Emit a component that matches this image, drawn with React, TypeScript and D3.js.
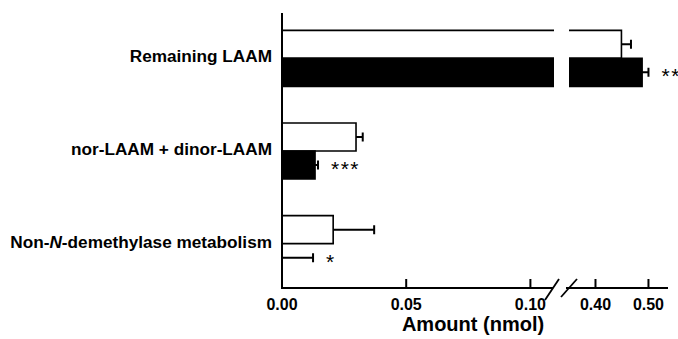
import React from 'react';
import * as d3 from 'd3';

const categories = ['Remaining LAAM', 'nor-LAAM + dinor-LAAM', 'Non-N-demethylase metabolism'];
const controlValues = [0.449, 0.0298, 0.0206];
const controlErrors = [0.018, 0.0027, 0.0165];
const treatedValues = [0.488, 0.0133, 0];
const treatedErrors = [0.012, 0.0012, 0.0125];
const significance = ['**', '***', '*'];
const leftTicks = [0, 0.05, 0.1];
const rightTicks = [0.4, 0.5];

const font = 'Liberation Sans, Arial, sans-serif';

const App = () => {
  const width = 678;
  const height = 339;
  const axisX = 282;
  const axisY = 288;
  const breakStart = 554;
  const breakEnd = 569;

  const xLeft = d3.scaleLinear().domain([0, 0.1095]).range([axisX, breakStart]);
  const xRight = d3.scaleLinear().domain([0.35, 0.535]).range([breakEnd, 667]);
  const y = d3.scaleBand().domain(categories).range([12, 290]).padding(0);
  const barH = 28;

  // map value -> x, whichever segment it falls in
  const xOf = (v) => (v <= 0.1095 ? xLeft(v) : xRight(v));

  const bar = (v, top, fill, key) => {
    const bottom = top + barH;
    if (v <= 0.1095) {
      const x1 = xOf(v);
      return (
        <g key={key}>
          <rect x={axisX} y={top} width={x1 - axisX} height={barH} fill={fill} />
          <path
            d={`M${axisX},${top}H${x1}V${bottom}H${axisX}`}
            fill="none"
            stroke="#000"
            strokeWidth={1.6}
          />
        </g>
      );
    }
    const x1 = xRight(v);
    return (
      <g key={key}>
        <rect x={axisX} y={top} width={breakStart - axisX} height={barH} fill={fill} />
        <rect x={breakEnd} y={top} width={x1 - breakEnd} height={barH} fill={fill} />
        <path d={`M${axisX},${top}H${breakStart}M${axisX},${bottom}H${breakStart}`} stroke="#000" strokeWidth={1.6} />
        <path d={`M${breakEnd},${top}H${x1}V${bottom}H${breakEnd}`} fill="none" stroke="#000" strokeWidth={1.6} />
      </g>
    );
  };

  const errBar = (v, e, cy, key) => {
    const x0 = xOf(v);
    const x1 = xOf(v + e);
    return (
      <path
        key={key}
        d={`M${x0},${cy}H${x1}M${x1},${cy - 4.5}V${cy + 4.5}`}
        stroke="#000"
        strokeWidth={2}
        fill="none"
      />
    );
  };

  return (
    <svg
      width={width}
      height={height}
      style={{ position: 'absolute', left: 0, top: 0, background: '#fff' }}
      fontFamily={font}
    >
      {categories.map((c, i) => {
        const center = y(c) + y.bandwidth() / 2;
        const wTop = center - barH;
        const bTop = center;
        return (
          <g key={c}>
            {bar(controlValues[i], wTop, '#fff', 'w')}
            {treatedValues[i] > 0 && bar(treatedValues[i], bTop, '#000', 'b')}
            {errBar(controlValues[i], controlErrors[i], wTop + barH / 2, 'we')}
            {errBar(treatedValues[i], treatedErrors[i], bTop + barH / 2, 'be')}
            <text
              x={xOf(treatedValues[i] + treatedErrors[i]) + 13}
              y={bTop + barH / 2 + 11}
              fontSize={21}
              letterSpacing={1.5}
            >
              {significance[i]}
            </text>
            <text x={272} y={center + 4} textAnchor="end" fontSize={17.2} fontWeight="bold">
              {c.startsWith('Non-N') ? (
                <>
                  Non-<tspan fontStyle="italic">N</tspan>-demethylase metabolism
                </>
              ) : (
                c
              )}
            </text>
          </g>
        );
      })}

      {/* axes */}
      <line x1={axisX} x2={axisX} y1={13} y2={axisY + 1} stroke="#000" strokeWidth={2} />
      <line x1={axisX - 1} x2={breakStart - 1} y1={axisY} y2={axisY} stroke="#000" strokeWidth={2} />
      <line x1={breakEnd - 3} x2={668} y1={axisY} y2={axisY} stroke="#000" strokeWidth={2} />
      <line x1={545} y1={300} x2={559} y2={279} stroke="#000" strokeWidth={1.8} />
      <line x1={561} y1={297} x2={577} y2={279} stroke="#000" strokeWidth={1.8} />

      {leftTicks.map((t) => (
        <g key={t}>
          {t > 0 && <line x1={xLeft(t)} x2={xLeft(t)} y1={axisY} y2={axisY - 9} stroke="#000" strokeWidth={2} />}
          <text x={xLeft(t)} y={310} textAnchor="middle" fontSize={16} fontWeight="bold">
            {d3.format('.2f')(t)}
          </text>
        </g>
      ))}
      {rightTicks.map((t) => (
        <g key={t}>
          <line x1={xRight(t)} x2={xRight(t)} y1={axisY} y2={axisY - 9} stroke="#000" strokeWidth={2} />
          <text x={xRight(t)} y={310} textAnchor="middle" fontSize={16} fontWeight="bold">
            {d3.format('.2f')(t)}
          </text>
        </g>
      ))}

      <text x={473} y={331} textAnchor="middle" fontSize={20} fontWeight="bold">
        Amount (nmol)
      </text>
    </svg>
  );
};

export default App;
